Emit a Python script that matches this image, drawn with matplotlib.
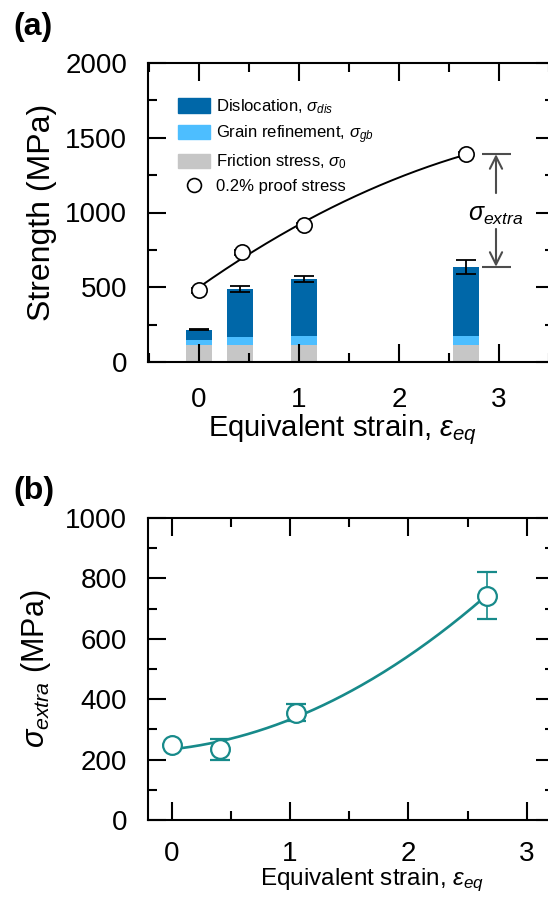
import numpy as np
import matplotlib
matplotlib.use('Agg')
import matplotlib.pyplot as plt
from matplotlib.patches import Patch
from matplotlib.lines import Line2D
from matplotlib.ticker import MultipleLocator

plt.rcParams['font.family'] = ['Liberation Sans', 'DejaVu Sans']
plt.rcParams['mathtext.fontset'] = 'custom'
plt.rcParams['mathtext.rm'] = 'Liberation Sans'
plt.rcParams['mathtext.it'] = 'Liberation Sans:italic'
plt.rcParams['mathtext.bf'] = 'Liberation Sans:bold'

# (a) strength contributions (MPa)
bar_strain = [0, 0.41, 1.05, 2.67]
friction = [111, 111, 111, 114]
grain = [38, 56, 61, 62]
dislocation = [67, 321, 383, 461]
bar_err = [5, 20, 18, 48]

proof_strain = [0, 0.43, 1.05, 2.67]
proof = [480, 733, 914, 1390]
proof_err = [18, 18, 18, 18]

# (b) extra strength (MPa)
extra_strain = [0, 0.41, 1.05, 2.66]
extra = [248, 234, 355, 742]
extra_err = [0, 34, 28, 78]

c_dis = '#0067A8'
c_gb = '#4DBEFF'
c_fr = '#C6C6C6'
c_teal = '#178A8A'
c_arrow = '#4D4D4D'


def style_axis(ax, xpad, ypad):
    for s in ax.spines.values():
        s.set_linewidth(1.5)
    ax.tick_params(which='both', direction='in', top=True, right=True, width=1.5,
                   labelsize=20)
    ax.tick_params(which='major', length=13)
    ax.tick_params(which='minor', length=6.5)
    ax.tick_params(axis='x', which='both', pad=xpad)
    ax.tick_params(axis='y', which='both', pad=ypad)


fig = plt.figure(figsize=(5.48, 9.17), dpi=100)

# ---------- panel (a) ----------
# right spine sits just outside the cropped figure, like the reference
ax1 = fig.add_axes([148/548, (917-362)/917, 406/548, 299/917])
w = 0.26
b1 = np.array(friction)
b2 = b1 + np.array(grain)
ax1.bar(bar_strain, friction, width=w, color=c_fr)
ax1.bar(bar_strain, grain, width=w, bottom=b1, color=c_gb)
ax1.bar(bar_strain, dislocation, width=w, bottom=b2, color=c_dis)
total = b2 + np.array(dislocation)
ax1.errorbar(bar_strain, total, yerr=bar_err, fmt='none', ecolor='black',
             elinewidth=1.3, capsize=7, capthick=1.3)

pfit = np.polyfit(proof_strain, proof, 2)
xx = np.linspace(proof_strain[0], proof_strain[-1], 200)
ax1.plot(xx, np.polyval(pfit, xx), color='black', lw=1.4, zorder=3)
ax1.errorbar(proof_strain, proof, yerr=proof_err, fmt='o', ms=11, mfc='white',
             mec='black', mew=1.2, ecolor='black', elinewidth=1, capsize=5.5,
             capthick=1, zorder=4)

# sigma_extra annotation
top_v = proof[-1]
bot_v = total[-1]
ax1.hlines([top_v, bot_v], 2.83, 3.12, color=c_arrow, lw=1.5)
ax1.annotate('', xy=(2.97, top_v), xytext=(2.97, 1130),
             arrowprops=dict(arrowstyle='->', color=c_arrow, lw=1.5, mutation_scale=22,
                             shrinkA=0, shrinkB=0))
ax1.annotate('', xy=(2.97, bot_v), xytext=(2.97, 890),
             arrowprops=dict(arrowstyle='->', color=c_arrow, lw=1.5, mutation_scale=22,
                             shrinkA=0, shrinkB=0))
ax1.text(2.97, 985, r'$\sigma_{extra}$', fontsize=18, ha='center', va='center')

ax1.set_xlim(-0.51, 3.55)
ax1.set_ylim(0, 2000)
ax1.xaxis.set_major_locator(MultipleLocator(1))
ax1.xaxis.set_minor_locator(MultipleLocator(0.5))
ax1.yaxis.set_major_locator(MultipleLocator(500))
ax1.yaxis.set_minor_locator(MultipleLocator(250))
style_axis(ax1, 18, 15)
ax1.set_xlabel(r'Equivalent strain, $\varepsilon_{eq}$', fontsize=21)
ax1.xaxis.set_label_coords(0.478, -0.167)
ax1.set_ylabel('Strength (MPa)', fontsize=23)
ax1.yaxis.set_label_coords(-0.225, 0.5)

handles = [Patch(color=c_dis), Patch(color=c_gb), Patch(color=c_fr),
           Line2D([], [], ls='none', marker='o', ms=10, mfc='white', mec='black', mew=1.2)]
labels = [r'Dislocation, $\sigma_{dis}$', r'Grain refinement, $\sigma_{gb}$',
          r'Friction stress, $\sigma_0$', '0.2% proof stress']
ax1.legend(handles, labels, loc='upper left', bbox_to_anchor=(0.074, 0.885),
           frameon=False, fontsize=12, borderpad=0, borderaxespad=0,
           handlelength=1.9, handleheight=0.95, handletextpad=0.4, labelspacing=0.42)

# ---------- panel (b) ----------
ax2 = fig.add_axes([148/548, (917-820)/917, 406/548, 302/917])
efit = np.polyfit(extra_strain, extra, 2)
xx2 = np.linspace(extra_strain[0], extra_strain[-1], 200)
ax2.plot(xx2, np.polyval(efit, xx2), color=c_teal, lw=1.9, zorder=3)
ax2.errorbar(extra_strain, extra, yerr=extra_err, fmt='o', ms=13.5, mfc='white',
             mec=c_teal, mew=1.6, ecolor=c_teal, elinewidth=1.2, capsize=7,
             capthick=1.2, zorder=4)
ax2.set_xlim(-0.2, 3.23)
ax2.set_ylim(0, 1000)
ax2.xaxis.set_major_locator(MultipleLocator(1))
ax2.xaxis.set_minor_locator(MultipleLocator(0.5))
ax2.yaxis.set_major_locator(MultipleLocator(200))
ax2.yaxis.set_minor_locator(MultipleLocator(100))
style_axis(ax2, 15, 15)
ax2.set_xlabel(r'Equivalent strain, $\varepsilon_{eq}$', fontsize=17.5)
ax2.xaxis.set_label_coords(0.553, -0.155)
ax2.set_ylabel(r'$\sigma_{extra}$ (MPa)', fontsize=22)
ax2.yaxis.set_label_coords(-0.235, 0.5)

fig.text(13/548, 1 - 12/917, '(a)', fontsize=23, fontweight='bold', ha='left', va='top')
fig.text(13/548, 1 - 476/917, '(b)', fontsize=23, fontweight='bold', ha='left', va='top')

fig.savefig('out.png', dpi=100)
